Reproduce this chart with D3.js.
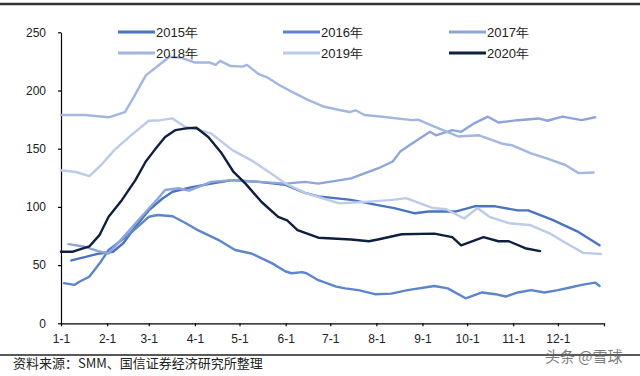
<!DOCTYPE html>
<html>
<head>
<meta charset="utf-8">
<script src="https://cdn.jsdelivr.net/npm/d3@7/dist/d3.min.js"></script>
<style>
  body { margin: 0; background: #fff; }
  svg { display: block; font-family: "Liberation Sans", Arial, sans-serif; }
  .axis path, .axis line { stroke: #000; stroke-width: 1.2; }
  .axis text { font-size: 12px; fill: #222; }
  .line { fill: none; stroke-width: 2.4; stroke-linejoin: round; stroke-linecap: round; }
</style>
</head>
<body>
<div class="container"></div>
<script>
// values, [month-day, price]
var y2015 = [["1-8",54],["1-27",60],["2-5",61.5],["2-12",69],["2-20",83],["3-1",97],["3-10",107],["3-17",113],["3-30",117],["4-12",120],["4-26",123],["5-14",121.5],["6-1",119],["6-14",112],["6-23",109],["7-15",106],["8-2",101.5],["8-13",99],["8-27",94.5],["9-5",96],["9-23",96],["10-6",100.5],["10-20",100.5],["11-4",97],["11-11",97],["11-27",89],["12-14",79],["12-29",67]];
var y2016 = [["1-3",34.5],["1-10",33],["1-13",35.5],["1-20",40],["1-27",51.5],["2-2",63],["2-14",74.5],["2-23",84.5],["3-1",91.5],["3-7",93],["3-17",92],["3-26",86],["4-3",80],["4-17",71.5],["4-28",63],["5-9",60],["5-23",51.5],["6-1",44.5],["6-5",43],["6-12",44],["6-15",43],["6-23",37],["7-5",31.5],["7-11",30],["7-20",28.5],["7-31",25],["8-11",25.5],["8-22",28.5],["9-9",32],["9-18",30],["9-30",21.5],["10-11",26.5],["10-20",25],["10-27",23],["11-4",26.5],["11-13",28.5],["11-22",26.5],["12-1",28.5],["12-10",31],["12-17",33],["12-26",35],["12-29",32]];
var y2017 = [["1-6",68],["1-16",66],["1-26",62],["2-2",60],["2-14",77],["2-24",91.5],["3-7",107],["3-12",114.5],["3-21",116],["3-28",114],["4-3",117],["4-12",121.5],["4-26",123],["5-14",121.5],["6-1",120],["6-14",121.5],["6-23",120],["7-15",124.5],["8-2",133],["8-12",139],["8-17",147.5],["8-25",154.5],["9-6",164.5],["9-10",161.5],["9-21",166],["9-27",164.5],["10-6",172],["10-15",177.5],["10-22",172.5],["11-4",174.5],["11-18",176],["11-24",174],["12-4",177.5],["12-17",174.5],["12-26",177]];
var y2018 = [["1-1",179],["1-17",179],["2-2",177],["2-13",181.5],["2-19",194.5],["2-27",213],["3-6",220],["3-15",229],["3-23",228],["4-1",224],["4-11",224],["4-15",222],["4-18",225.5],["4-25",221],["5-3",220.5],["5-6",222],["5-14",214],["5-20",211],["5-28",204.5],["6-5",199],["6-16",192],["6-27",186],["7-8",183],["7-14",181.5],["7-18",183],["7-24",179],["8-5",177.5],["8-25",174.5],["8-29",175],["9-9",169],["9-25",160.5],["10-9",161.5],["10-24",154.5],["10-31",153],["11-13",146],["11-24",141.5],["12-6",136],["12-15",129],["12-25",129.5]];
var y2019 = [["1-1",131.5],["1-11",130],["1-20",126.5],["1-28",136],["2-6",149],["2-17",161.5],["3-1",174],["3-9",174.5],["3-17",176],["3-25",169],["4-2",167],["4-12",163],["4-26",149],["5-9",140],["5-22",129],["6-1",120],["6-15",111.5],["6-23",108.5],["7-7",103],["7-27",104.5],["8-12",106],["8-21",107.5],["9-8",99],["9-17",98],["9-29",90],["10-8",99],["10-16",91.5],["10-29",86],["11-12",84.5],["11-25",77.5],["12-7",68.5],["12-18",60.5],["12-30",59.5]];
var y2020 = [["1-1",61.5],["1-9",61.5],["1-20",66],["1-27",76],["2-2",91.5],["2-11",106],["2-20",123],["2-27",139],["3-5",149],["3-12",160],["3-19",166],["3-26",167.5],["4-2",168],["4-10",160],["4-19",146],["4-27",130],["5-5",120],["5-16",104],["5-27",91.5],["6-2",88.5],["6-9",80],["6-23",73.5],["7-15",72],["7-27",70.5],["8-2",72],["8-18",76.5],["9-9",77],["9-21",74],["9-27",67],["10-12",74],["10-22",70.5],["10-29",70.5],["11-9",64.5],["11-19",62]];

var seriesNames = ["2015年", "2016年", "2017年", "2018年", "2019年", "2020年"];
var seriesData = [y2015, y2016, y2017, y2018, y2019, y2020];
var colors = ["#4a74bf", "#5d85cc", "#8da5d8", "#a3b6e0", "#bccbe9", "#0f1f3f"];
var yTicks = [0, 50, 100, 150, 200, 250];
var monthTicks = ["1-1","2-1","3-1","4-1","5-1","6-1","7-1","8-1","9-1","10-1","11-1","12-1"];
var sourceText = "资料来源：SMM、国信证券经济研究所整理";

var WIDTH = 640,
	HEIGHT = 376,
	LEFT = 61,
	RIGHT = 604,
	TOP = 32.3,
	BOTTOM = 323.3;

var parse = d3.timeParse("%Y-%m-%d");
function toDate(md) { return parse("2019-" + md); }

var svg = d3.select('.container').append('svg')
	.attr('width', WIDTH)
	.attr('height', HEIGHT);

var xScale = d3.scaleTime()
	.domain([toDate("1-1"), parse("2020-01-01")])
	.range([LEFT, RIGHT]);

var yScale = d3.scaleLinear()
	.domain([0, 250])
	.range([BOTTOM, TOP]);

// top and bottom rules
svg.append('line').attr('x1', 0).attr('x2', WIDTH).attr('y1', 4).attr('y2', 4)
	.attr('stroke', '#333').attr('stroke-width', 2.5);
svg.append('line').attr('x1', 0).attr('x2', WIDTH).attr('y1', 355).attr('y2', 355)
	.attr('stroke', '#222').attr('stroke-width', 1.5);

var xTickDates = monthTicks.map(toDate).concat([parse("2020-01-01")]);
var xAxis = d3.axisBottom(xScale)
	.tickValues(xTickDates)
	.tickSize(3)
	.tickPadding(8)
	.tickSizeOuter(0)
	.tickFormat(function(d, i) { return i < monthTicks.length ? monthTicks[i] : ""; });

svg.append('g')
	.attr('class', 'axis')
	.attr('transform', 'translate(0,' + BOTTOM + ')')
	.call(xAxis);

var yAxis = d3.axisLeft(yScale)
	.tickValues(yTicks)
	.tickSize(3)
	.tickPadding(12)
	.tickSizeOuter(0);

svg.append('g')
	.attr('class', 'axis')
	.attr('transform', 'translate(' + LEFT + ',0)')
	.call(yAxis);

var line = d3.line()
	.x(function(d) { return xScale(toDate(d[0])); })
	.y(function(d) { return yScale(d[1]); });

seriesData.forEach(function(s, i) {
	svg.append('path')
		.datum(s)
		.attr('class', 'line')
		.attr('stroke', colors[i])
		.attr('stroke-width', i == 5 ? 2.6 : 2.4)
		.attr('d', line);
});

// legend, 3 columns x 2 rows
var legendX = [118, 283, 449],
	legendY = [32, 53];
var legend = svg.append('g');
seriesNames.forEach(function(name, i) {
	var lx = legendX[i % 3], ly = legendY[Math.floor(i / 3)];
	legend.append('line')
		.attr('x1', lx).attr('x2', lx + 37)
		.attr('y1', ly).attr('y2', ly)
		.attr('stroke', colors[i]).attr('stroke-width', 3);
	legend.append('text')
		.attr('x', lx + 38).attr('y', ly)
		.attr('dy', '0.36em')
		.attr('font-size', 13)
		.attr('fill', '#222')
		.text(name);
});

svg.append('text')
	.attr('x', 13).attr('y', 363)
	.attr('dy', '0.36em')
	.attr('font-size', 13)
	.attr('font-family', '"Noto Sans CJK SC", sans-serif')
	.attr('fill', '#222')
	.text(sourceText);

svg.append('text')
	.attr('x', 545).attr('y', 357)
	.attr('dy', '0.36em')
	.attr('font-size', 15)
	.attr('font-family', '"Noto Sans CJK SC", sans-serif')
	.attr('fill', '#666')
	.attr('opacity', 0.85)
	.text("头条 @雪球");
</script>
</body>
</html>
